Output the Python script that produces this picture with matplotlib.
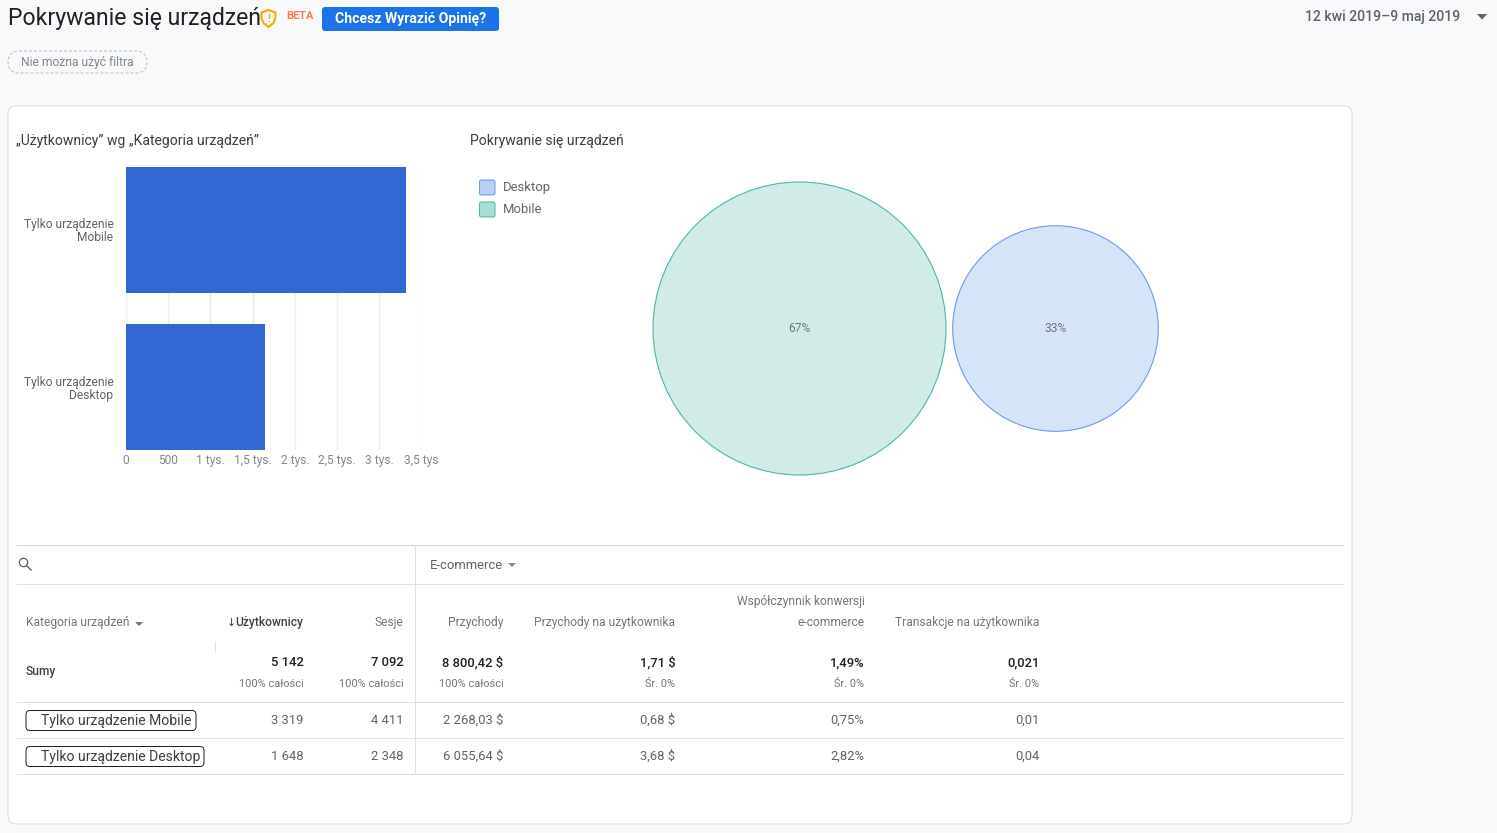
import numpy as np
import matplotlib
matplotlib.use("Agg")
import matplotlib.pyplot as plt
from matplotlib.patches import FancyBboxPatch, Circle, Polygon, Rectangle

plt.rcParams["font.family"] = ["Roboto", "DejaVu Sans"]

W, H = 1497, 833

# ---- data ----
bar_labels = ["Tylko urządzenie\nMobile", "Tylko urządzenie\nDesktop"]
bar_values = [3319, 1648]
bar_ticks = [0, 500, 1000, 1500, 2000, 2500, 3000, 3500]
bar_tick_labels = ["0", "500", "1 tys.", "1,5 tys.", "2 tys.", "2,5 tys.", "3 tys.", "3,5 tys"]

venn_names = ["Desktop", "Mobile"]
venn_shares = [33, 67]

col_heads = ["Użytkownicy", "Sesje", "Przychody", "Przychody na użytkownika",
             "e-commerce", "Transakcje na użytkownika"]
totals = ["5 142", "7 092", "8 800,42 $", "1,71 $", "1,49%", "0,021"]
total_subs = ["100% całości", "100% całości", "100% całości", "Śr. 0%", "Śr. 0%", "Śr. 0%"]
row_names = ["Tylko urządzenie Mobile", "Tylko urządzenie Desktop"]
row_mobile = ["3 319", "4 411", "2 268,03 $", "0,68 $", "0,75%", "0,01"]
row_desktop = ["1 648", "2 348", "6 055,64 $", "3,68 $", "2,82%", "0,04"]

# ---- helpers ----
def pt(px):
    return px * 0.72

def txt(x, y, s, size=12, color="#5f6368", ha="left", weight="normal", **kw):
    return ui.text(x, y, s, fontsize=pt(size), color=color, ha=ha, va="center",
                   fontweight=weight, **kw)

def hline(x0, x1, y, color="#e0e0e0", lw=1.0):
    ui.plot([x0, x1], [y, y], color=color, lw=lw * 0.72, solid_capstyle="butt")

def vline(x, y0, y1, color="#e0e0e0", lw=1.0):
    ui.plot([x, x], [y0, y1], color=color, lw=lw * 0.72, solid_capstyle="butt")

def rbox(x0, y0, x1, y1, r, fc, ec="none", lw=1.0, ls="-", z=1):
    ui.add_patch(FancyBboxPatch((x0 + r, y0 + r), x1 - x0 - 2 * r, y1 - y0 - 2 * r,
                                boxstyle=f"round,pad={r},rounding_size={r}",
                                fc=fc, ec=ec, lw=lw * 0.72, ls=ls, zorder=z))

fig = plt.figure(figsize=(W / 100, H / 100), dpi=100, facecolor="#f8f9fa")

# pixel coordinate layer for the page furniture
ui = fig.add_axes([0, 0, 1, 1])
ui.set_xlim(0, W)
ui.set_ylim(H, 0)
ui.axis("off")

# ---- header ----
txt(8, 18, "Pokrywanie się urządzeń", size=23, color="#202124")
shield = Polygon([(268.5, 10), (275.5, 12.5), (275.5, 18), (273.5, 23), (268.5, 27),
                  (263.5, 23), (261.5, 18), (261.5, 12.5)],
                 closed=True, fc="none", ec="#f9ab00", lw=1.5)
ui.add_patch(shield)
txt(268.5, 18.5, "!", size=11, color="#f9ab00", ha="center", weight="bold")
txt(286, 15.5, "BETA", size=11, color="#ff7a45", weight="bold")
rbox(322, 7, 499, 31, 3, "#1a73e8")
txt(410.5, 18.5, "Chcesz Wyrazić Opinię?", size=14, color="white", ha="center", weight="bold")
txt(1460, 17, "12 kwi 2019–9 maj 2019", size=14, color="#5f6368", ha="right", weight="medium")
ui.add_patch(Polygon([(1477, 14), (1487, 14), (1482, 19.5)], closed=True, fc="#5f6368", ec="none"))

rbox(8, 51, 147, 73, 11, "none", ec="#bdbdbd", lw=1.0, ls=(0, (3, 2)))
txt(21, 62, "Nie można użyć filtra", size=12, color="#80868b")

# ---- card ----
rbox(8, 106, 1352, 824, 8, "white", ec="#dadce0", lw=1.0, z=0)
txt(16, 140.5, "„Użytkownicy” wg „Kategoria urządzeń”", size=14, color="#3c4043")
txt(469.5, 140.5, "Pokrywanie się urządzeń", size=14, color="#3c4043")

# ---- bar chart ----
left, right, top, bottom = 126, 421.5, 167, 450
ax = fig.add_axes([left / W, 1 - bottom / H, (right - left) / W, (bottom - top) / H])
y_pos = [1, 0]
ax.barh(y_pos, bar_values, height=0.8025, color="#3367d6", zorder=3)
ax.set_xlim(0, 3500)
ax.set_ylim(-0.401, 1.401)
ax.set_xticks(bar_ticks)
ax.set_xticklabels(bar_tick_labels, fontsize=pt(12), color="#80868b")
ax.set_yticks(y_pos)
ax.set_yticklabels(bar_labels, fontsize=pt(12), color="#5f6368", linespacing=1.0, ha="right")
ax.tick_params(axis="both", length=0, pad=3)
ax.tick_params(axis="y", pad=9)
ax.grid(axis="x", color="#eceff1", lw=1.0, zorder=0)
ax.set_axisbelow(True)
for s in ax.spines.values():
    s.set_visible(False)
ax.patch.set_alpha(0)

# ---- venn ----
venn_fill = ["#d6e4fa", "#d1ece8"]
venn_edge = ["#6f9aec", "#4db6a6"]
legend_fill = ["#b9d0f5", "#a9ded5"]
radius_k = 146.5 / np.sqrt(max(venn_shares))
venn_x = [1055.5, 799.5]
for name, share, fc, ec, lf, lec, cx, ly in zip(venn_names, venn_shares, venn_fill, venn_edge,
                                                legend_fill, venn_edge, venn_x, [187.5, 209.5]):
    ui.add_patch(Circle((cx, 328.5), radius_k * np.sqrt(share), fc=fc, ec=ec, lw=0.8))
    txt(cx, 328.5, f"{share}%", size=12, color="#757575", ha="center")
    rbox(479.5, ly - 7.5, 495, ly + 7.5, 2, lf, ec=lec, lw=1.0)
    txt(502.5, ly, name, size=13, color="#5f6368")

# ---- table ----
hline(16, 1344, 544.5, color="#d5d5d5")
hline(16, 1344, 583.5)
vline(414.5, 544.5, 774)
vline(214.5, 641, 651)
hline(16, 1344, 701.5)
hline(16, 1344, 737.5)
hline(16, 1344, 773.5)

# search icon
ui.add_patch(Circle((23.5, 562.5), 4.2, fc="none", ec="#5f6368", lw=0.9))
ui.plot([26.5, 31], [565.5, 570], color="#5f6368", lw=1.0)

txt(429.5, 565.5, "E-commerce", size=13)
ui.add_patch(Polygon([(508, 563), (516, 563), (512, 567)], closed=True, fc="#80868b", ec="none"))

col_x = [303.5, 403.5, 503.5, 675.5, 864.5, 1039.5]
txt(26, 622.5, "Kategoria urządzeń", size=12, color="#757575")
ui.add_patch(Polygon([(135, 622), (143, 622), (139, 626)], closed=True, fc="#757575", ec="none"))
txt(864.5, 601.5, "Współczynnik konwersji", size=12, color="#757575", ha="right")
for i, (x, head) in enumerate(zip(col_x, col_heads)):
    if i == 0:
        txt(x, 622.5, head, size=12, color="#3c4043", ha="right", weight="medium")
        txt(236, 622.5, "↓", size=11, color="#3c4043", ha="right")
    else:
        txt(x, 622.5, head, size=12, color="#757575", ha="right")

txt(26, 671.5, "Sumy", size=12, color="#3c4043", weight="medium")
for x, a, b, c, d in zip(col_x, totals, total_subs, row_mobile, row_desktop):
    txt(x, 662.5, a, size=13, color="#202124", ha="right", weight="medium")
    txt(x, 684, b, size=11, color="#757575", ha="right")
    txt(x, 720.5, c, size=13, ha="right")
    txt(x, 756.5, d, size=13, ha="right")

for name, y, x1 in zip(row_names, [720.5, 756.5], [196, 204]):
    rbox(26, y - 10, x1, y + 10, 4, "white", ec="#202124", lw=1.0, z=2)
    txt(41, y, name, size=14, color="#3c4043", zorder=3)

fig.savefig("out.png", dpi=100, facecolor=fig.get_facecolor())
